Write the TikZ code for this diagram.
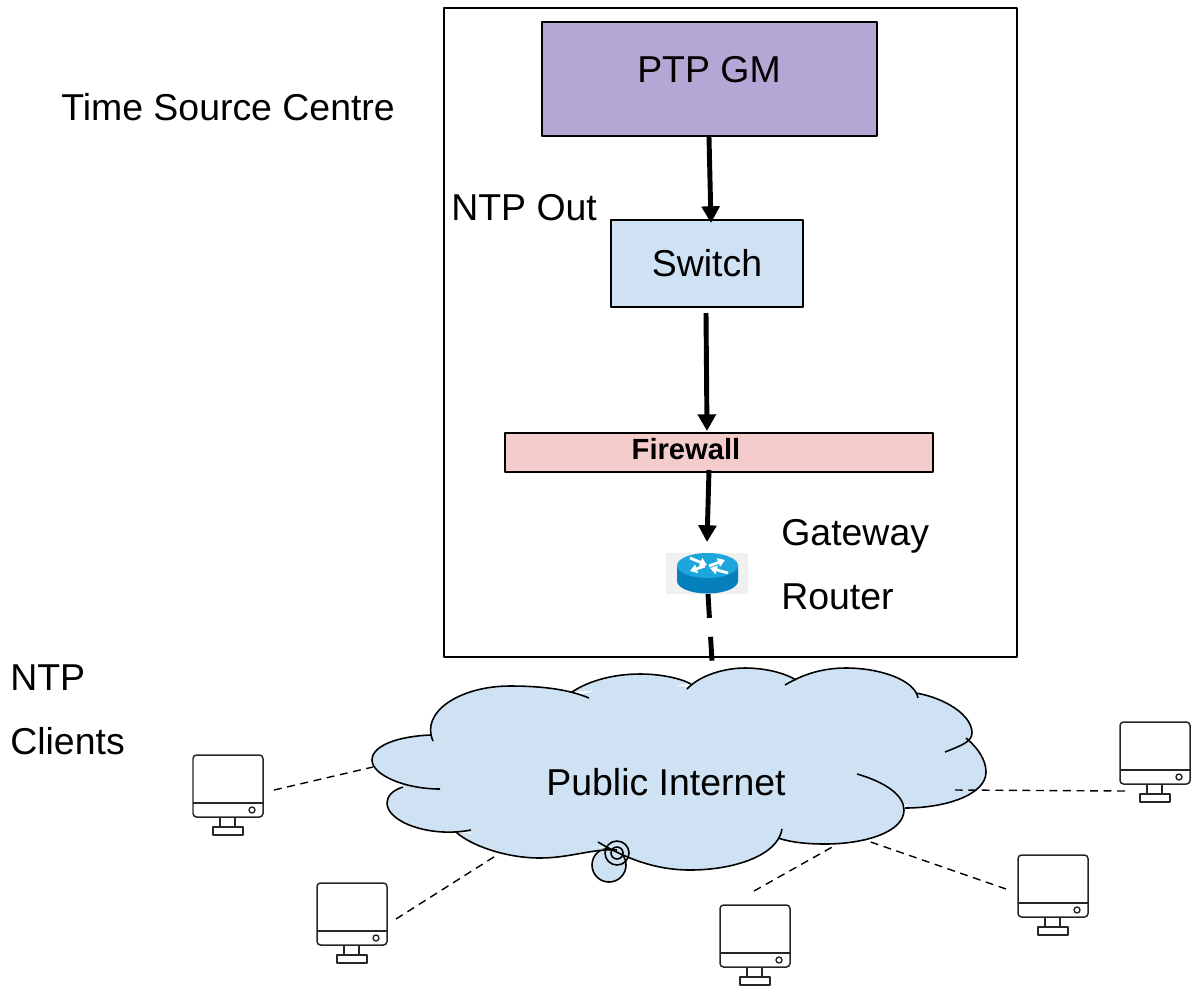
\documentclass[tikz,border=0pt]{standalone}
\usetikzlibrary{arrows.meta}
\usepackage{fontspec}
\setmainfont{Liberation Sans}
\definecolor{gmpurple}{HTML}{B4A7D6}
\definecolor{paleblue}{HTML}{CFE2F3}
\definecolor{palered}{HTML}{F4CCCC}
\definecolor{routertop}{HTML}{1DA6DC}
\definecolor{routerside}{HTML}{0580BD}
\newcommand{\lobeA}{(433,741) .. controls (420,712) and (460,686) .. (510,686) .. controls (545,686) and (570,690) .. (589,698)}
\newcommand{\lobeB}{(572,692) .. controls (590,680) and (615,674) .. (640,674) .. controls (660,674) and (680,678) .. (691,684)}
\newcommand{\lobeC}{(687,689) .. controls (700,675) and (725,668) .. (745,668) .. controls (765,668) and (785,673) .. (796,680)}
\newcommand{\lobeD}{(785,685) .. controls (805,673) and (825,668) .. (846,668) .. controls (880,668) and (915,680) .. (918,698)}
\newcommand{\lobeE}{(916,693) .. controls (945,698) and (972,715) .. (972,733) .. controls (972,742) and (960,746) .. (945,752)}
\newcommand{\lobeF}{(966,738) .. controls (978,748) and (986,760) .. (986,772) .. controls (986,795) and (945,808) .. (905,808)}
\newcommand{\lobeG}{(857,774) .. controls (885,782) and (904,795) .. (904,810) .. controls (904,832) and (865,844) .. (825,844) .. controls (805,844) and (790,842) .. (778,838)}
\newcommand{\lobeH}{(782,829) .. controls (778,855) and (735,870) .. (690,870) .. controls (655,870) and (625,858) .. (598,842)}
\newcommand{\lobeI}{(617,850) .. controls (595,848) and (570,858) .. (540,858) .. controls (505,858) and (470,845) .. (456,832)}
\newcommand{\lobeJ}{(471,830) .. controls (430,838) and (387,822) .. (387,803) .. controls (387,796) and (393,790) .. (403,787)}
\newcommand{\lobeK}{(440,789) .. controls (405,789) and (372,775) .. (372,760) .. controls (372,745) and (400,736) .. (431,735)}
\tikzset{
	box/.style={draw=black, line width=.8pt, inner sep=0pt},
	label text/.style={inner sep=0pt, anchor=base west},
	link/.style={line width=2.8pt, -{Stealth[length=9.5pt, width=10pt, inset=0pt]}},
	router arrow/.style={white, line width=1.6pt, -{Stealth[length=4pt, width=5pt, inset=0pt]}},
	client link/.style={line width=.8pt, dash pattern=on 4.5pt off 3.2pt},
	lobe/.style={line width=.9pt},
	client/.pic={
		\draw[black!85, line width=.85pt, rounded corners=2pt] (0,0) rectangle (70,62);
		\draw[black!85, line width=.95pt] (0,48)--(70,48);
		\draw[black!85, line width=.8pt] (59,55) circle (3);
		\draw[black!85, line width=.7pt] (27,62)--(27,72) (42,62)--(42,72);
		\draw[black!85, line width=.7pt] (20,72) rectangle (50,80);
	}
}
\begin{document}
\begin{tikzpicture}[x=.02cm, y=-.02cm, font=\fontsize{21.3}{25}\selectfont, line join=round, >=stealth]
	\useasboundingbox (0,0) rectangle (1200,985);
	% time source centre
	\draw[line width=.9pt] (444,8) rectangle (1017,657);
	\node[box, fill=gmpurple, minimum width=335*.02cm, minimum height=114*.02cm] (gm) at (709.5,79) {};
	\node (gmlabel) at (709,70) {PTP GM};
	\node[box, fill=paleblue, minimum width=192*.02cm, minimum height=87*.02cm] (switch) at (707,263.5) {Switch};
	\node[box, fill=palered, minimum width=428*.02cm, minimum height=39*.02cm] (firewall) at (719,452.5) {};
	\node[inner sep=0pt, font=\fontsize{16.6}{20}\selectfont\bfseries] (firewalllabel) at (686,449.5) {Firewall};
	\node[label text] (source) at (61,120) {Time Source Centre};
	\node[label text] (ntpout) at (451,220) {NTP Out};
	\node[label text] (gateway) at (781,545) {Gateway};
	\node[label text] (router) at (781,609) {Router};
	\node[label text] (ntp) at (10,690) {NTP};
	\node[label text] (clients) at (10,754) {Clients};
	% router icon
	\fill[gray!12] (666,553) rectangle (748,594);
	\fill[routerside] (677,565)--(677,581) arc[start angle=180, end angle=0, x radius=30.5, y radius=12.5]--(738,565)--cycle;
	\fill[routertop] (707.5,565.5) ellipse[x radius=30.5, y radius=12.5];
	\draw[router arrow] (690,558)--(707,565);
	\draw[router arrow] (709,566)--(725,560);
	\draw[router arrow] (705,566)--(690,571);
	\draw[router arrow] (728,573)--(710,568);
	% links
	\coordinate (gmout) at (709,137);
	\coordinate (switchin) at (711,223);
	\coordinate (switchout) at (706,313);
	\coordinate (firewallin) at (707,431);
	\coordinate (firewallout) at (709,470);
	\coordinate (routerin) at (707,542);
	\coordinate (routerout) at (708,594);
	\coordinate (cloudin) at (712,661);
	\draw[link] (gmout)--(switchin);
	\draw[link] (switchout)--(firewallin);
	\draw[link] (firewallout)--(routerin);
	\draw[line width=2.8pt, dash pattern=on 13.6pt off 10.8pt] (routerout)--(cloudin);
	% cloud
	\draw[lobe, fill=paleblue] (609,865) circle (17);
	\fill[paleblue] (433,737)--(510,695)--(578,695)--(635,680)--(689,687)--(745,675)--(791,681)--(850,675)--(915,697)--(955,720)--(964,740)--(970,775)--(903,806)--(880,830)--(830,838)--(781,836)--(690,862)--(610,847)--(540,850)--(463,831)--(400,805)--(405,788)--(385,760)--cycle;
	\fill[paleblue] \lobeA; \fill[paleblue] \lobeB; \fill[paleblue] \lobeC; \fill[paleblue] \lobeD;
	\fill[paleblue] \lobeE; \fill[paleblue] \lobeF; \fill[paleblue] \lobeG; \fill[paleblue] \lobeH;
	\fill[paleblue] \lobeI; \fill[paleblue] \lobeJ; \fill[paleblue] \lobeK;
	\draw[lobe] \lobeA;
	\draw[lobe] \lobeB;
	\draw[lobe] \lobeC;
	\draw[lobe] \lobeD;
	\draw[lobe] \lobeE;
	\draw[lobe] \lobeF;
	\draw[lobe] \lobeG;
	\draw[lobe] \lobeH;
	\draw[lobe] \lobeI;
	\draw[lobe] \lobeJ;
	\draw[lobe] \lobeK;
	\draw[lobe] (617,853) circle (12) (617,853) circle (6);
	\node (internet) at (666,782) {Public Internet};
	% clients
	\pic at (193,755) {client};
	\pic at (317,883) {client};
	\pic at (720,905) {client};
	\pic at (1018,855) {client};
	\pic at (1120,722) {client};
	\coordinate (clientA) at (274,790);
	\coordinate (cloudA) at (373,767);
	\coordinate (clientB) at (396,919);
	\coordinate (cloudB) at (497,855);
	\coordinate (clientC) at (754,891);
	\coordinate (cloudC) at (834,846);
	\coordinate (clientD) at (1006,889);
	\coordinate (cloudD) at (865,840);
	\coordinate (clientE) at (1125,791);
	\coordinate (cloudE) at (955,790);
	\draw[client link] (clientA)--(cloudA);
	\draw[client link] (clientB)--(cloudB);
	\draw[client link] (clientC)--(cloudC);
	\draw[client link] (clientD)--(cloudD);
	\draw[client link] (clientE)--(cloudE);
\end{tikzpicture}
\end{document}
